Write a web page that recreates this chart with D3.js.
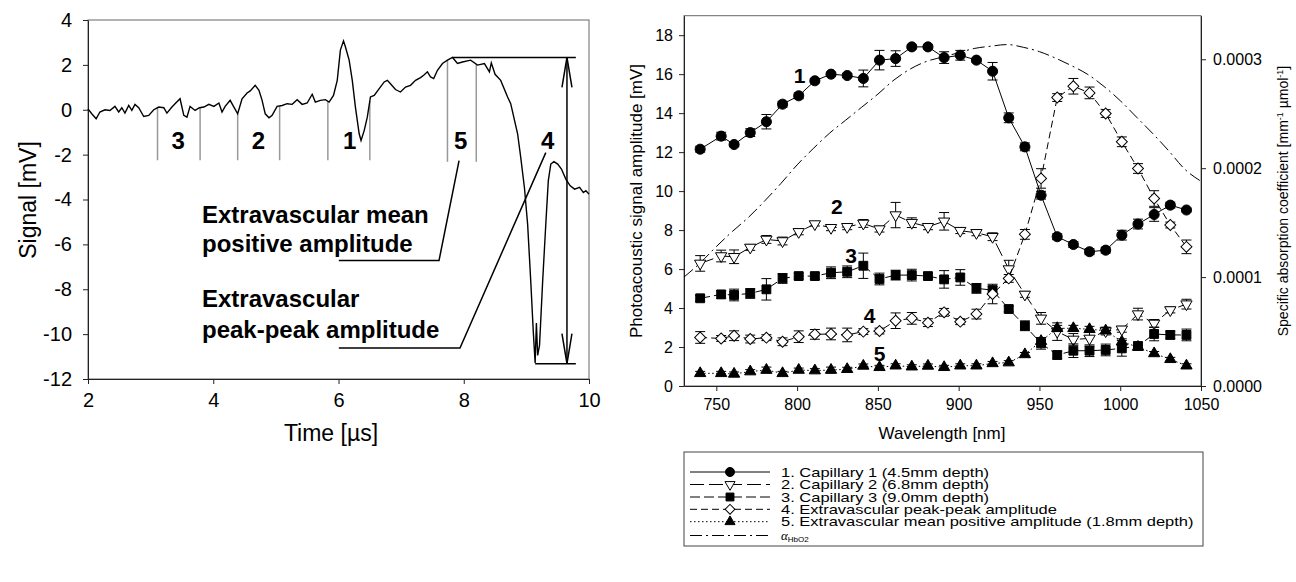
<!DOCTYPE html>
<html>
<head>
<meta charset="utf-8">
<script src="https://cdn.jsdelivr.net/npm/d3@7"></script>
<style>
body { margin: 0; background: #fff; }
svg { display: block; font-family: "Liberation Sans", Arial, sans-serif; }
</style>
</head>
<body>
<div id="chart"></div>
<script>
// ---------- left panel: photoacoustic signal trace ----------
var sigTime = [2.00, 2.06, 2.13, 2.19, 2.27, 2.35, 2.43, 2.49, 2.54, 2.59, 2.65, 2.70, 2.75, 2.81, 2.89, 2.97,
    3.05, 3.13, 3.21, 3.26, 3.34, 3.39, 3.47, 3.53, 3.58, 3.63, 3.71, 3.78, 3.85, 3.93, 4.01, 4.09, 4.14, 4.19,
    4.27, 4.33, 4.39, 4.46, 4.54, 4.59, 4.67, 4.73, 4.78, 4.83, 4.89, 4.94, 5.02, 5.10, 5.18, 5.26, 5.34, 5.42,
    5.50, 5.58, 5.63, 5.71, 5.79, 5.85, 5.92, 5.98, 6.03, 6.08, 6.11, 6.17, 6.22, 6.27, 6.33, 6.36, 6.41, 6.46,
    6.51, 6.57, 6.65, 6.73, 6.78, 6.83, 6.91, 6.99, 7.07, 7.15, 7.23, 7.31, 7.36, 7.42, 7.47, 7.52, 7.58, 7.66,
    7.74, 7.82, 7.90, 7.98, 8.11, 8.22, 8.33, 8.41, 8.44, 8.50, 8.59, 8.70, 8.75, 8.86, 8.91, 8.97, 9.02, 9.07,
    9.11, 9.14, 9.16, 9.18, 9.21, 9.26, 9.31, 9.35, 9.39, 9.44, 9.50, 9.56, 9.63, 9.70, 9.77, 9.85, 9.91, 9.95, 10.0];
var sigValue = [0.04, -0.18, -0.40, -0.10, 0.00, -0.03, 0.15, -0.10, 0.09, -0.15, 0.19, -0.03, 0.24, 0.09, -0.30, -0.25,
    0.00, 0.12, 0.09, -0.15, 0.12, 0.27, 0.49, -0.25, -0.33, 0.15, -0.03, 0.09, 0.12, 0.24, 0.15, 0.30, -0.10, 0.15,
    0.42, 0.12, -0.18, 0.49, 0.75, 0.84, 1.09, 0.87, 0.42, -0.18, -0.36, -0.25, 0.15, 0.19, 0.27, 0.24, 0.45, 0.24,
    0.30, 0.69, 0.34, 0.42, 0.45, 0.34, 0.64, 1.31, 2.66, 3.07, 2.81, 2.21, 1.31, 0.12, -1.07, -1.37, -0.93, -0.33,
    0.57, 0.64, 0.94, 1.24, 1.31, 1.16, 0.90, 0.79, 1.01, 1.09, 1.31, 1.43, 1.54, 1.69, 1.46, 1.39, 1.76, 2.06,
    2.21, 2.33, 2.06, 2.13, 2.21, 1.99, 2.06, 1.69, 2.09, 1.58, 1.31, 0.57, 0.27, -1.07, -2.12, -3.50, -5.10, -7.64,
    -9.87, -11.29, -9.50, -10.95, -10.50, -7.64, -5.10, -3.17, -2.42, -2.31, -2.42, -2.64, -3.09, -3.39, -3.54, -3.46, -3.69, -3.61, -3.76];
var sigXTicks = [2, 4, 6, 8, 10];
var sigYTicks = [-12, -10, -8, -6, -4, -2, 0, 2, 4];
var gateTimes = [3.11, 3.79, 4.39, 5.06, 5.83, 6.50, 7.74, 8.20];
var gateLabels = ["3", "2", "1", "5", "4"];
var gateLabelTime = [3.44, 4.72, 6.18, 7.95, 9.34];
var peakMax = 2.33, peakMin = -11.32;

// ---------- right panel: spectra ----------
var wavelengths = [740, 753, 761, 771, 781, 791, 801, 811, 821, 831, 841, 851, 861, 871, 881, 891,
    901, 911, 921, 931, 941, 951, 961, 971, 981, 991, 1001, 1011, 1021, 1031, 1041];
var cap1 = [12.15, 12.82, 12.39, 13.0, 13.56, 14.46, 14.89, 15.66, 16.0, 15.93, 15.78, 16.72, 16.8, 17.4, 17.4, 16.85,
    16.97, 16.72, 16.15, 13.76, 12.27, 9.79, 7.66, 7.26, 6.89, 6.97, 7.74, 8.31, 8.8, 9.28, 9.03];
var cap1Err = [0.15, 0.2, 0.1, 0.2, 0.37, 0.15, 0.15, 0.1, 0.1, 0.1, 0.43, 0.5, 0.4, 0.1, 0.1, 0.3,
    0.25, 0.1, 0.45, 0.25, 0.2, 0.2, 0.15, 0.15, 0.15, 0.15, 0.25, 0.25, 0.35, 0.15, 0.1];
var cap2 = [6.29, 6.67, 6.63, 7.11, 7.52, 7.44, 7.91, 8.31, 8.12, 8.17, 8.34, 8.05, 8.77, 8.38, 8.17, 8.45,
    7.97, 7.86, 7.66, 6.0, 4.7, 3.47, 2.79, 2.39, 2.44, 2.82, 2.91, 3.69, 3.21, 3.9, 4.2];
var cap2Err = [0.4, 0.3, 0.35, 0.15, 0.2, 0.2, 0.15, 0.1, 0.15, 0.15, 0.2, 0.15, 0.65, 0.25, 0.15, 0.45,
    0.15, 0.15, 0.2, 0.45, 0.15, 0.3, 0.45, 0.3, 0.4, 0.2, 0.15, 0.3, 0.2, 0.15, 0.25];
var cap3 = [4.5, 4.7, 4.67, 4.75, 4.96, 5.52, 5.64, 5.64, 5.81, 5.86, 6.17, 5.49, 5.69, 5.69, 5.64, 5.47,
    5.57, 5.01, 4.92, 3.95, 3.09, 2.19, 1.59, 1.81, 1.81, 1.85, 1.93, 2.05, 2.67, 2.62, 2.62];
var cap3Err = [0.15, 0.2, 0.3, 0.25, 0.55, 0.25, 0.15, 0.15, 0.3, 0.3, 0.65, 0.3, 0.25, 0.3, 0.15, 0.45,
    0.4, 0.25, 0.2, 0.15, 0.25, 0.3, 0.2, 0.35, 0.3, 0.3, 0.4, 0.2, 0.35, 0.2, 0.3];
var extraPP = [2.49, 2.44, 2.58, 2.41, 2.48, 2.27, 2.53, 2.65, 2.67, 2.62, 2.79, 2.82, 3.35, 3.47, 3.25, 3.78,
    3.3, 3.69, 4.72, 5.52, 7.78, 10.65, 14.8, 15.38, 15.04, 13.98, 12.53, 11.16, 9.62, 8.26, 7.14];
var extraPPErr = [0.3, 0.15, 0.25, 0.2, 0.15, 0.2, 0.3, 0.25, 0.3, 0.35, 0.15, 0.15, 0.4, 0.3, 0.2, 0.2,
    0.15, 0.25, 0.5, 0.2, 0.25, 0.5, 0.2, 0.4, 0.3, 0.2, 0.25, 0.25, 0.4, 0.15, 0.35];
var extraMean = [0.65, 0.65, 0.62, 0.74, 0.82, 0.65, 0.82, 0.79, 0.82, 0.86, 1.03, 0.96, 1.04, 0.99, 1.03, 0.96,
    1.04, 1.04, 1.16, 1.2, 1.62, 2.3, 2.96, 2.96, 2.91, 2.84, 2.27, 2.0, 1.67, 1.37, 1.04];
var extraMeanErr = [0.1, 0.1, 0.1, 0.1, 0.15, 0.1, 0.1, 0.1, 0.15, 0.1, 0.1, 0.1, 0.1, 0.1, 0.1, 0.1,
    0.1, 0.1, 0.1, 0.1, 0.1, 0.15, 0.15, 0.15, 0.15, 0.15, 0.15, 0.1, 0.1, 0.1, 0.1];
var hbWl = [730, 740, 750, 760, 770, 780, 790, 800, 810, 820, 830, 840, 850, 860, 870, 880, 890,
    900, 910, 920, 930, 940, 950, 960, 970, 980, 990, 1000, 1010, 1020, 1030, 1040, 1050];
var hbAlpha = [0.000100, 0.000113, 0.000128, 0.000142, 0.000155, 0.000170, 0.000186, 0.000203, 0.000218,
    0.000232, 0.000244, 0.000256, 0.000268, 0.000281, 0.000291, 0.000298, 0.000302, 0.000306, 0.000310,
    0.000312, 0.0003135, 0.000311, 0.000307, 0.000301, 0.000294, 0.000286, 0.000275, 0.000262, 0.000247,
    0.000232, 0.000216, 0.000199, 0.000188];
var wlTicks = [750, 800, 850, 900, 950, 1000, 1050];
var ampTicks = [0, 2, 4, 6, 8, 10, 12, 14, 16, 18];
var alphaTicks = [0, 0.0001, 0.0002, 0.0003];
var seriesNames = ["1. Capillary 1 (4.5mm depth)", "2. Capillary 2 (6.8mm depth)", "3. Capillary 3 (9.0mm depth)",
    "4. Extravascular peak-peak amplitude", "5. Extravascular mean positive amplitude (1.8mm depth)"];
var seriesTags = ["1", "2", "3", "4", "5"];
var tagWl = [801.6, 824.6, 833.5, 844.8, 851];
var tagAmp = [15.95, 9.19, 6.72, 3.64, 1.68];

var svg = d3.select("#chart").append("svg")
    .attr("width", 1296)
    .attr("height", 582);

function styleAxis(g, size) {
    g.attr("font-size", null).attr("font-family", null);
    g.selectAll("text").style("font-size", size + "px").attr("fill", "#000");
    g.selectAll("line").attr("stroke", "#222");
    g.select(".domain").attr("stroke", "#222");
}

// ================= LEFT PANEL =================
var xSig = d3.scaleLinear().domain([2, 10]).range([88, 589]);
var ySig = d3.scaleLinear().domain([-12, 4]).range([379, 20]);
var left = svg.append("g");

left.append("rect")
    .attr("x", 88).attr("y", 20)
    .attr("width", 501).attr("height", 359)
    .attr("fill", "none").attr("stroke", "#666").attr("stroke-width", 1);

left.append("g")
    .attr("transform", "translate(0,379)")
    .call(d3.axisBottom(xSig).tickValues(sigXTicks).tickSize(5).tickSizeOuter(0).tickPadding(9).tickFormat(String))
    .call(styleAxis, 20);

left.append("g")
    .attr("transform", "translate(88,0)")
    .call(d3.axisLeft(ySig).tickValues(sigYTicks).tickSize(5).tickSizeOuter(0).tickPadding(11).tickFormat(String))
    .call(styleAxis, 20);

left.append("text")
    .attr("x", 331).attr("y", 441)
    .attr("text-anchor", "middle")
    .style("font-size", "23px")
    .text("Time [\u00b5s]");

left.append("text")
    .attr("transform", "translate(36,200) rotate(-90)")
    .attr("text-anchor", "middle")
    .style("font-size", "23px")
    .text("Signal [mV]");

var sigPts = sigTime.map(function (t, i) { return [t, sigValue[i]]; });

function sigAt(t) { // value of the trace at time t
    var i = d3.bisector(function (d) { return d[0]; }).left(sigPts, t);
    if (i <= 0) return sigPts[0][1];
    var a = sigPts[i - 1], b = sigPts[i];
    return a[1] + (b[1] - a[1]) * (t - a[0]) / (b[0] - a[0]);
}

// gray gate markers
left.append("g").selectAll("line")
    .data(gateTimes)
    .enter().append("line")
    .attr("x1", function (d) { return xSig(d); })
    .attr("x2", function (d) { return xSig(d); })
    .attr("y1", function (d) { return ySig(sigAt(d)); })
    .attr("y2", function (d, i) { return ySig(i > 5 ? -2.32 : -2.25); })
    .attr("stroke", "#999").attr("stroke-width", 1.5);

left.append("path")
    .datum(sigPts)
    .attr("fill", "none").attr("stroke", "#000").attr("stroke-width", 1.4)
    .attr("d", d3.line().x(function (d) { return xSig(d[0]); }).y(function (d) { return ySig(d[1]); }));

left.append("g").selectAll("text")
    .data(gateLabels)
    .enter().append("text")
    .attr("x", function (d, i) { return xSig(gateLabelTime[i]); })
    .attr("y", ySig(-1.37))
    .attr("dy", "0.36em")
    .attr("text-anchor", "middle")
    .style("font-size", "24px").style("font-weight", "bold")
    .text(function (d) { return d; });

// peak-to-peak markers
var ann = left.append("g").attr("stroke", "#000").attr("fill", "none").attr("stroke-width", 1.5);
ann.append("line").attr("x1", xSig(7.82)).attr("x2", xSig(9.79)).attr("y1", ySig(peakMax)).attr("y2", ySig(peakMax));
ann.append("line").attr("x1", xSig(9.14)).attr("x2", xSig(9.79)).attr("y1", ySig(peakMin)).attr("y2", ySig(peakMin));
var ax = xSig(9.648);
ann.append("line").attr("x1", ax).attr("x2", ax).attr("y1", ySig(peakMax)).attr("y2", ySig(peakMin));
ann.append("path").attr("d", "M" + (ax - 5) + "," + (ySig(peakMax) + 30) + "L" + ax + "," + ySig(peakMax) + "L" + (ax + 5) + "," + (ySig(peakMax) + 30));
ann.append("path").attr("d", "M" + (ax - 5) + "," + (ySig(peakMin) - 30) + "L" + ax + "," + ySig(peakMin) + "L" + (ax + 5) + "," + (ySig(peakMin) - 30));

// leader lines to labels
var leaderMean = [[6.005, -6.72], [7.605, -6.72], [7.925, -2.27]];
var leaderPP = [[6.005, -10.62], [7.94, -10.62], [9.31, -1.91]];
var lineSig = d3.line().x(function (d) { return xSig(d[0]); }).y(function (d) { return ySig(d[1]); });
ann.append("path").attr("d", lineSig(leaderMean));
ann.append("path").attr("d", lineSig(leaderPP));

var annText = [["Extravascular mean", -5.04], ["positive amplitude", -6.34], ["Extravascular", -8.8], ["peak-peak amplitude", -10.19]];
left.append("g").selectAll("text")
    .data(annText)
    .enter().append("text")
    .attr("x", xSig(3.82))
    .attr("y", function (d) { return ySig(d[1]); })
    .style("font-size", "24px").style("font-weight", "bold")
    .text(function (d) { return d[0]; });

// ================= RIGHT PANEL =================
var xW = d3.scaleLinear().domain([730, 1050]).range([684, 1201]);
var yA = d3.scaleLinear().domain([0, 19]).range([386, 15.7]);
var yB = d3.scaleLinear().domain([0, 0.00034]).range([386, 15.7]);
var right = svg.append("g");

right.append("rect")
    .attr("x", 684).attr("y", 15.7)
    .attr("width", 517).attr("height", 370.3)
    .attr("fill", "none").attr("stroke", "#666");

right.append("g")
    .attr("transform", "translate(0,386)")
    .call(d3.axisBottom(xW).tickValues(wlTicks).tickSize(5).tickSizeOuter(0).tickPadding(8).tickFormat(String))
    .call(styleAxis, 16);

right.append("g")
    .attr("transform", "translate(684,0)")
    .call(d3.axisLeft(yA).tickValues(ampTicks).tickSize(5).tickSizeOuter(0).tickPadding(6).tickFormat(String))
    .call(styleAxis, 16);

right.append("g")
    .attr("transform", "translate(1201,0)")
    .call(d3.axisRight(yB).tickValues(alphaTicks).tickSize(5).tickSizeOuter(0).tickPadding(7).tickFormat(d3.format(".4f")))
    .call(styleAxis, 16);

right.append("text")
    .attr("x", 942).attr("y", 439)
    .attr("text-anchor", "middle")
    .style("font-size", "17px")
    .text("Wavelength [nm]");

right.append("text")
    .attr("transform", "translate(642,201) rotate(-90)")
    .attr("text-anchor", "middle")
    .style("font-size", "17px")
    .text("Photoacoustic signal amplitude [mV]");

var t2 = right.append("text")
    .attr("transform", "translate(1288,201) rotate(-90)")
    .attr("text-anchor", "middle")
    .style("font-size", "14px");
t2.append("tspan").text("Specific absorption coefficient [mm");
t2.append("tspan").attr("dy", -5).style("font-size", "9px").text("-1");
t2.append("tspan").attr("dy", 5).text("  \u00b5mol");
t2.append("tspan").attr("dy", -5).style("font-size", "9px").text("-1");
t2.append("tspan").attr("dy", 5).text("]");

// HbO2 absorption curve
var hbPts = hbWl.map(function (w, i) { return [w, hbAlpha[i]]; });
right.append("path")
    .datum(hbPts)
    .attr("fill", "none").attr("stroke", "#000").attr("stroke-width", 1)
    .attr("stroke-dasharray", "12,4,2,4")
    .attr("d", d3.line().curve(d3.curveMonotoneX)
        .x(function (d) { return xW(d[0]); }).y(function (d) { return yB(d[1]); }));

var series = [
    { vals: cap1, errs: cap1Err, sym: d3.symbolCircle, size: 80, rot: 0, fill: "#000", dash: null },
    { vals: cap2, errs: cap2Err, sym: d3.symbolTriangle, size: 55, rot: 180, fill: "#fff", dash: "14,5" },
    { vals: cap3, errs: cap3Err, sym: d3.symbolSquare, size: 78, rot: 0, fill: "#000", dash: "10,4" },
    { vals: extraPP, errs: extraPPErr, sym: d3.symbolSquare, size: 60, rot: 45, fill: "#fff", dash: "7,4" },
    { vals: extraMean, errs: extraMeanErr, sym: d3.symbolTriangle, size: 55, rot: 0, fill: "#000", dash: "1.5,2.5" }
];

var lineW = d3.line().x(function (d) { return xW(d[0]); }).y(function (d) { return yA(d[1]); });

series.forEach(function (s) {
    var pts = wavelengths.map(function (w, i) { return [w, s.vals[i], s.errs[i]]; });
    var g = right.append("g");
    g.append("path")
        .datum(pts)
        .attr("fill", "none").attr("stroke", "#000").attr("stroke-width", 1)
        .attr("stroke-dasharray", s.dash)
        .attr("d", lineW);
    var eb = g.append("g").attr("stroke", "#000").attr("stroke-width", 1)
        .selectAll("g").data(pts).enter().append("g");
    eb.append("line")
        .attr("x1", function (d) { return xW(d[0]); }).attr("x2", function (d) { return xW(d[0]); })
        .attr("y1", function (d) { return yA(d[1] + d[2]); }).attr("y2", function (d) { return yA(d[1] - d[2]); });
    eb.append("line")
        .attr("x1", function (d) { return xW(d[0]) - 5; }).attr("x2", function (d) { return xW(d[0]) + 5; })
        .attr("y1", function (d) { return yA(d[1] + d[2]); }).attr("y2", function (d) { return yA(d[1] + d[2]); });
    eb.append("line")
        .attr("x1", function (d) { return xW(d[0]) - 5; }).attr("x2", function (d) { return xW(d[0]) + 5; })
        .attr("y1", function (d) { return yA(d[1] - d[2]); }).attr("y2", function (d) { return yA(d[1] - d[2]); });
    g.append("g").selectAll("path")
        .data(pts).enter().append("path")
        .attr("d", d3.symbol().type(s.sym).size(s.size))
        .attr("transform", function (d) { return "translate(" + xW(d[0]) + "," + yA(d[1]) + ") rotate(" + s.rot + ")"; })
        .attr("fill", s.fill).attr("stroke", "#000").attr("stroke-width", 1);
});

right.append("g").selectAll("text")
    .data(seriesTags)
    .enter().append("text")
    .attr("x", function (d, i) { return xW(tagWl[i]); })
    .attr("y", function (d, i) { return yA(tagAmp[i]); })
    .attr("dy", "0.36em")
    .attr("text-anchor", "middle")
    .style("font-size", "21px").style("font-weight", "bold")
    .text(function (d) { return d; });

// ---------- legend ----------
var leg = svg.append("g");
leg.append("rect")
    .attr("x", 684).attr("y", 452)
    .attr("width", 519).attr("height", 94)
    .attr("fill", "none").attr("stroke", "#444");

var rowY = [472, 484.5, 497, 509.3, 521.7, 535.5];
series.forEach(function (s, i) {
    leg.append("line")
        .attr("x1", 690).attr("x2", 770).attr("y1", rowY[i]).attr("y2", rowY[i])
        .attr("stroke", "#000").attr("stroke-dasharray", s.dash);
    leg.append("path")
        .attr("d", d3.symbol().type(s.sym).size(s.size * 0.8))
        .attr("transform", "translate(730," + rowY[i] + ") rotate(" + s.rot + ")")
        .attr("fill", s.fill).attr("stroke", "#000");
    // legend text is drawn a bit wide, as in the original figure
    leg.append("text")
        .attr("transform", "translate(781," + (rowY[i] + 4.5) + ") scale(1.27,1)")
        .style("font-size", "13px")
        .text(seriesNames[i]);
});
leg.append("line")
    .attr("x1", 690).attr("x2", 770).attr("y1", rowY[5]).attr("y2", rowY[5])
    .attr("stroke", "#000").attr("stroke-dasharray", "12,4,2,4");
var at = leg.append("text").attr("x", 781).attr("y", rowY[5] + 4);
at.append("tspan").style("font-family", "'Liberation Serif', serif").style("font-style", "italic").style("font-size", "13px").text("\u03b1");
at.append("tspan").attr("dy", 2).style("font-size", "8px").text("HbO2");
</script>
</body>
</html>
